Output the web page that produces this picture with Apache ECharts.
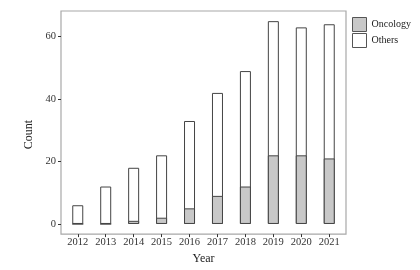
<!DOCTYPE html>
<html><head><meta charset="utf-8">
<script src="https://cdn.jsdelivr.net/npm/echarts@6/dist/echarts.min.js"></script>
<style>html,body{margin:0;padding:0;background:#fff}#c{width:420px;height:270px}</style>
</head><body><div id="c"></div>
<script>
const years = [2012, 2013, 2014, 2015, 2016, 2017, 2018, 2019, 2020, 2021];
const oncology = [0, 0, 1, 2, 5, 9, 12, 22, 22, 21];
const totals = [6, 12, 18, 22, 33, 42, 49, 65, 63, 64];
const yTicks = [0, 20, 40, 60];

const font = 'Liberation Serif, Times New Roman, serif';
const chart = echarts.init(document.getElementById('c'), null, {renderer: 'canvas'});
chart.setOption({
  animation: false,
  backgroundColor: '#fff',
  grid: {left: 61, top: 11, width: 285, height: 227, show: true, borderColor: '#a8a8a8', borderWidth: 1.2, backgroundColor: '#fff'},
  xAxis: {
    type: 'value', min: 2011.4, max: 2021.6,
    name: 'Year', nameLocation: 'middle', nameGap: 15,
    nameTextStyle: {fontFamily: font, fontSize: 12, color: '#222'},
    axisLine: {show: false, onZero: false},
    splitLine: {show: false},
    axisTick: {show: true, length: 3, lineStyle: {color: '#333'}, customValues: years},
    axisLabel: {fontFamily: font, fontSize: 10.5, color: '#333', margin: 3, customValues: years, formatter: v => String(v)}
  },
  yAxis: {
    type: 'value', min: -3.25, max: 68.25,
    name: 'Count', nameLocation: 'middle', nameGap: 20, nameRotate: 90,
    nameTextStyle: {fontFamily: font, fontSize: 12, color: '#222', padding: [0, 24, 0, 0]},
    axisLine: {show: false, onZero: false},
    splitLine: {show: false},
    axisTick: {show: true, length: 3, lineStyle: {color: '#333'}, customValues: yTicks},
    axisLabel: {fontFamily: font, fontSize: 10.5, color: '#333', margin: 5, customValues: yTicks}
  },
  legend: {
    orient: 'vertical', left: 352, top: 17, padding: 0, itemWidth: 14, itemHeight: 14, itemGap: 1,
    textStyle: {fontFamily: font, fontSize: 10, color: '#222'},
    data: [
      {name: 'Oncology', icon: 'rect', itemStyle: {color: '#c8c8c8', borderColor: '#555', borderWidth: 1}},
      {name: 'Others', icon: 'rect', itemStyle: {color: '#fff', borderColor: '#555', borderWidth: 1}}
    ]
  },
  series: [
    {name: 'Others', type: 'bar', barWidth: 11, barGap: '-100%', z: 2,
     data: years.map((y, i) => [y, totals[i]]),
     itemStyle: {color: '#fff', borderColor: '#444', borderWidth: 1}},
    {name: 'Oncology', type: 'bar', barWidth: 11, barGap: '-100%', z: 3,
     data: years.map((y, i) => [y, oncology[i]]),
     itemStyle: {color: '#c8c8c8', borderColor: '#444', borderWidth: 1}}
  ]
});
</script></body></html>
